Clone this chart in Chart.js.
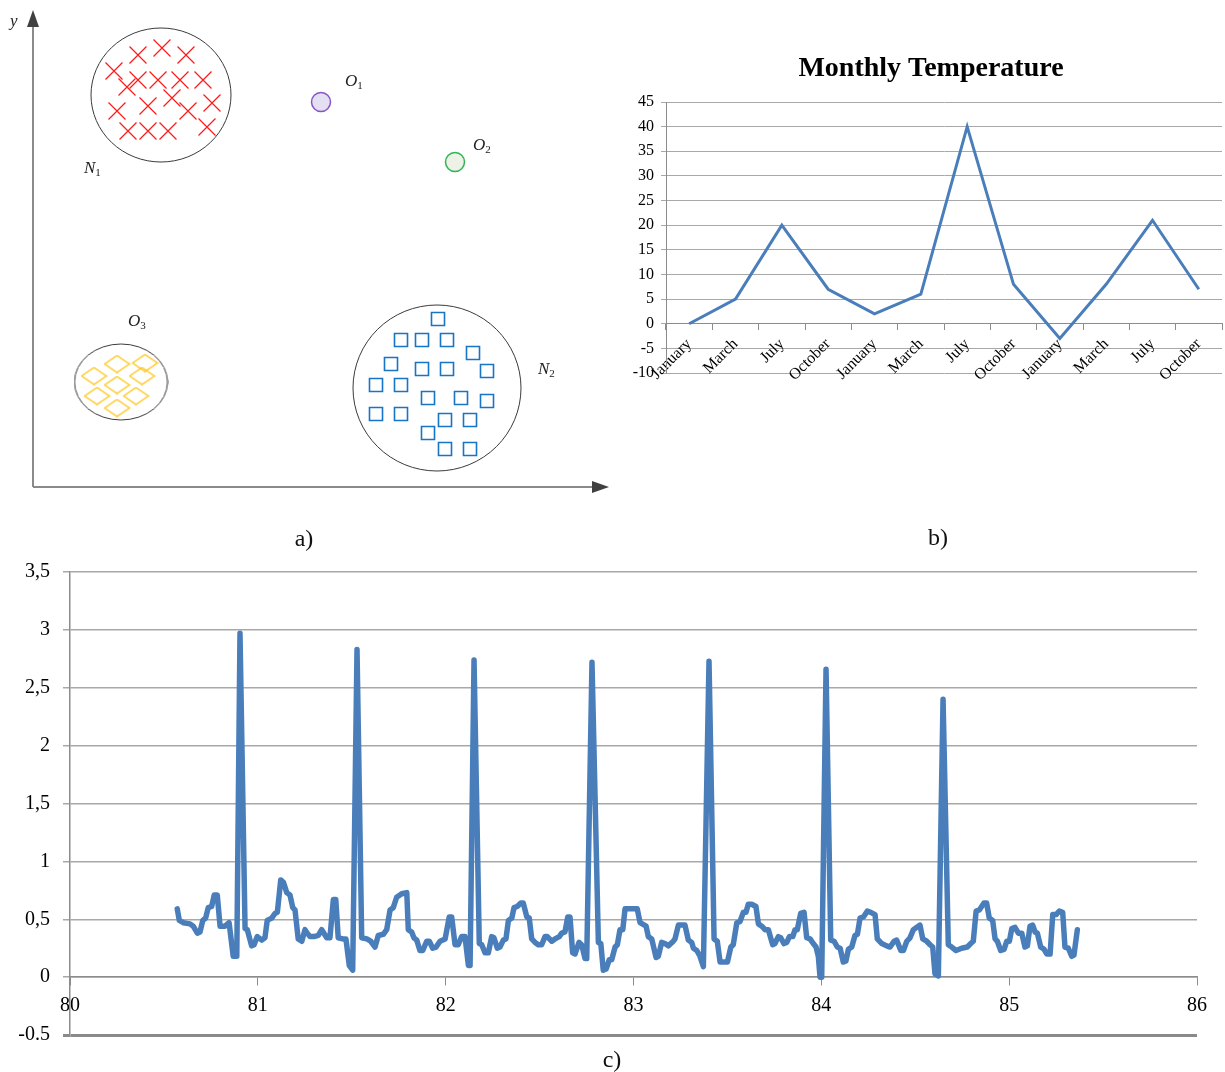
<!DOCTYPE html>
<html lang="en">
  <head>
    <meta charset="UTF-8" />
    <title>Clusters, temperature and signal</title>
    <style>
      body { margin: 0; background: #fff; }
      #page { position: relative; width: 1225px; height: 1072px; overflow: hidden; }
      canvas { position: absolute; }
      .cap { position: absolute; font: 24px "Liberation Serif", serif; color: #111; transform: translate(-50%, -50%); }
    </style>
  </head>
  <body>
    <div id="page">
      <canvas id="clusters" width="620" height="500" style="left:0;top:0"></canvas> <!--PANEL A-->
      <canvas id="temperature" width="605" height="360" style="left:620px;top:40px"></canvas> <!--PANEL B-->
      <canvas id="signal" width="1225" height="523" style="left:0;top:542px"></canvas> <!--PANEL C-->
      <div class="cap" style="left:304px;top:538px">a)</div>
      <div class="cap" style="left:938px;top:537px">b)</div>
      <div class="cap" style="left:612px;top:1059px">c)</div>
    </div>

    <script src="https://cdn.jsdelivr.net/npm/chart.js@4.4.1/dist/chart.umd.min.js"></script>

    <script>
      // ---- panel a : points in feature space (x, y) ----
      var crossX = [105, 129, 153, 81, 105, 125, 147, 170, 94, 139, 84, 115, 155, 179, 95, 115, 135, 174];
      var crossY = [432, 439, 432, 416, 407, 407, 407, 407, 400, 389, 376, 381, 376, 384, 356, 356, 356, 360];
      var squareX = [405, 368, 389, 414, 440, 358, 389, 414, 454, 343, 368, 395, 428, 454, 343, 368, 412, 437, 395, 412, 437];
      var squareY = [168, 147, 147, 147, 134, 123, 118, 118, 116, 102, 102, 89, 89, 86, 73, 73, 67, 67, 54, 38, 38];
      var diamondX = [61, 84, 112, 109, 84, 64, 103, 84];
      var diamondY = [111, 123, 124, 111, 102, 91, 91, 79];
      var clusterNames = ['N1', 'O3', 'N2'];
      var clusterX = [128, 88, 404];
      var clusterY = [392, 105, 99];
      var outlierNames = ['O1', 'O2'];
      var outlierX = [288, 422];
      var outlierY = [385, 325];

      // ---- panel b : monthly temperature ----
      var months = ['January', 'March', 'July', 'October', 'January', 'March', 'July', 'October', 'January', 'March', 'July', 'October'];
      var temperatures = [0, 5, 20, 7, 2, 6, 40, 8, -3, 8, 21, 7];

      // ---- panel c : signal ----
      var signalTime = [
        80.571, 80.582, 80.603, 80.639, 80.656, 80.678, 80.692, 80.707, 80.722, 80.736, 80.754, 80.768, 80.784, 80.799, 80.825, 80.847, 80.869, 80.888, 80.905, 80.932,
        80.944, 80.967, 80.980, 80.997, 81.021, 81.038, 81.050, 81.074, 81.091, 81.104, 81.122, 81.136, 81.154, 81.171, 81.186, 81.198, 81.215, 81.234, 81.251, 81.263,
        81.278, 81.299, 81.322, 81.340, 81.367, 81.384, 81.402, 81.415, 81.428, 81.452, 81.469, 81.487, 81.505, 81.528, 81.553, 81.580, 81.601, 81.624, 81.641, 81.668,
        81.686, 81.704, 81.721, 81.739, 81.766, 81.793, 81.801, 81.819, 81.831, 81.846, 81.863, 81.878, 81.899, 81.913, 81.931, 81.949, 81.970, 81.997, 82.019, 82.032,
        82.050, 82.067, 82.085, 82.103, 82.121, 82.130, 82.151, 82.179, 82.192, 82.210, 82.227, 82.245, 82.257, 82.275, 82.289, 82.307, 82.321, 82.334, 82.352, 82.364,
        82.381, 82.400, 82.413, 82.432, 82.445, 82.458, 82.476, 82.493, 82.511, 82.529, 82.541, 82.565, 82.582, 82.605, 82.618, 82.635, 82.650, 82.662, 82.676, 82.689,
        82.710, 82.724, 82.742, 82.751, 82.779, 82.813, 82.826, 82.839, 82.854, 82.871, 82.884, 82.902, 82.914, 82.928, 82.943, 82.955, 83.020, 83.035, 83.067, 83.079,
        83.097, 83.120, 83.132, 83.150, 83.168, 83.185, 83.212, 83.221, 83.239, 83.274, 83.292, 83.310, 83.319, 83.337, 83.354, 83.372, 83.402, 83.429, 83.446, 83.461,
        83.500, 83.518, 83.531, 83.550, 83.567, 83.585, 83.599, 83.611, 83.629, 83.652, 83.665, 83.683, 83.700, 83.718, 83.741, 83.753, 83.771, 83.784, 83.801, 83.816,
        83.830, 83.848, 83.860, 83.872, 83.890, 83.908, 83.922, 83.940, 83.957, 83.972, 83.984, 83.993, 84.002, 84.025, 84.050, 84.068, 84.085, 84.100, 84.117, 84.131,
        84.144, 84.162, 84.179, 84.192, 84.206, 84.224, 84.245, 84.263, 84.286, 84.298, 84.322, 84.348, 84.366, 84.387, 84.401, 84.423, 84.437, 84.455, 84.472, 84.490,
        84.508, 84.525, 84.540, 84.561, 84.579, 84.593, 84.605, 84.623, 84.648, 84.676, 84.694, 84.717, 84.747, 84.777, 84.795, 84.809, 84.824, 84.841, 84.866, 84.880,
        84.894, 84.912, 84.925, 84.937, 84.955, 84.973, 84.987, 85.001, 85.014, 85.031, 85.049, 85.067, 85.084, 85.097, 85.111, 85.125, 85.138, 85.150, 85.168, 85.186,
        85.200, 85.218, 85.232, 85.250, 85.267, 85.285, 85.297, 85.315, 85.333, 85.345, 85.363
      ];
      var signalValue = [
        0.59, 0.49, 0.47, 0.46, 0.44, 0.38, 0.39, 0.49, 0.51, 0.60, 0.61, 0.71, 0.71, 0.44, 0.44, 0.47, 0.18, 0.18, 2.97, 0.42,
        0.41, 0.27, 0.28, 0.35, 0.32, 0.34, 0.49, 0.51, 0.55, 0.56, 0.84, 0.82, 0.73, 0.71, 0.60, 0.58, 0.33, 0.31, 0.41, 0.38,
        0.35, 0.35, 0.36, 0.41, 0.34, 0.34, 0.67, 0.67, 0.34, 0.33, 0.33, 0.10, 0.06, 2.83, 0.34, 0.33, 0.31, 0.26, 0.36, 0.37,
        0.41, 0.58, 0.60, 0.69, 0.72, 0.73, 0.41, 0.39, 0.34, 0.32, 0.23, 0.23, 0.31, 0.31, 0.25, 0.26, 0.31, 0.33, 0.52, 0.52,
        0.28, 0.28, 0.35, 0.35, 0.10, 0.10, 2.74, 0.29, 0.28, 0.21, 0.21, 0.35, 0.34, 0.25, 0.26, 0.32, 0.33, 0.49, 0.51, 0.60,
        0.61, 0.64, 0.64, 0.52, 0.51, 0.33, 0.30, 0.28, 0.28, 0.35, 0.35, 0.31, 0.33, 0.35, 0.38, 0.39, 0.52, 0.52, 0.21, 0.20,
        0.30, 0.28, 0.16, 0.16, 2.72, 0.30, 0.29, 0.06, 0.07, 0.15, 0.15, 0.26, 0.28, 0.41, 0.41, 0.59, 0.59, 0.47, 0.44, 0.35,
        0.33, 0.17, 0.18, 0.30, 0.29, 0.27, 0.31, 0.33, 0.45, 0.45, 0.32, 0.30, 0.25, 0.23, 0.18, 0.09, 2.73, 0.33, 0.31, 0.13,
        0.13, 0.26, 0.28, 0.47, 0.48, 0.56, 0.56, 0.63, 0.63, 0.61, 0.46, 0.44, 0.41, 0.41, 0.28, 0.29, 0.35, 0.34, 0.29, 0.30,
        0.35, 0.35, 0.41, 0.41, 0.55, 0.56, 0.34, 0.33, 0.29, 0.26, 0.18, 0.00, 0.00, 2.66, 0.32, 0.31, 0.26, 0.25, 0.13, 0.14,
        0.24, 0.26, 0.36, 0.37, 0.51, 0.52, 0.57, 0.56, 0.54, 0.33, 0.29, 0.27, 0.26, 0.31, 0.32, 0.23, 0.23, 0.31, 0.34, 0.41,
        0.43, 0.45, 0.33, 0.31, 0.28, 0.26, 0.03, 0.01, 2.40, 0.28, 0.26, 0.23, 0.25, 0.26, 0.29, 0.31, 0.57, 0.58, 0.64, 0.64,
        0.51, 0.49, 0.33, 0.31, 0.23, 0.24, 0.31, 0.31, 0.42, 0.43, 0.38, 0.38, 0.26, 0.27, 0.44, 0.45, 0.39, 0.38, 0.26, 0.24,
        0.20, 0.20, 0.54, 0.54, 0.57, 0.56, 0.26, 0.25, 0.18, 0.19, 0.41
      ];
      var signalXTicks = ['80', '81', '82', '83', '84', '85', '86'];
      var signalYTicks = ['-0.5', '0', '0,5', '1', '1,5', '2', '2,5', '3', '3,5'];

      var SERIF = '"Liberation Serif", "Times New Roman", serif';
      var BLUE = '#4a7ebb';

      function toPoints(xs, ys) {
        return xs.map(function (x, i) { return { x: x, y: ys[i] }; });
      }

      // little canvases used as point styles
      function ellipseImg(w, h) {
        var c = document.createElement('canvas');
        c.width = w + 2; c.height = h + 2;
        var g = c.getContext('2d');
        g.strokeStyle = '#3a3a3a';
        g.lineWidth = 1;
        g.beginPath();
        g.ellipse(c.width / 2, c.height / 2, w / 2, h / 2, 0, 0, Math.PI * 2);
        g.stroke();
        return c;
      }
      function diamondImg(w, h, color) {
        var c = document.createElement('canvas');
        c.width = w + 2; c.height = h + 2;
        var g = c.getContext('2d');
        g.strokeStyle = color;
        g.lineWidth = 1.2;
        g.beginPath();
        g.moveTo(c.width / 2, 1);
        g.lineTo(c.width - 1, c.height / 2);
        g.lineTo(c.width / 2, c.height - 1);
        g.lineTo(1, c.height / 2);
        g.closePath();
        g.stroke();
        return c;
      }

      //PANEL A
      var clusterShapes = [ellipseImg(140, 134), ellipseImg(93, 76), ellipseImg(168, 166)];

      var axisArrows = {
        id: 'axisArrows',
        afterDraw: function (chart) {
          var a = chart.chartArea, ctx = chart.ctx;
          ctx.save();
          ctx.strokeStyle = '#8a8a8a';
          ctx.lineWidth = 2;
          ctx.beginPath();
          ctx.moveTo(a.left, a.bottom);
          ctx.lineTo(a.left, a.top + 16);
          ctx.moveTo(a.left, a.bottom);
          ctx.lineTo(a.right - 16, a.bottom);
          ctx.stroke();
          ctx.fillStyle = '#404040';
          ctx.beginPath();
          ctx.moveTo(a.left, a.top);
          ctx.lineTo(a.left - 6, a.top + 17);
          ctx.lineTo(a.left + 6, a.top + 17);
          ctx.closePath();
          ctx.fill();
          ctx.beginPath();
          ctx.moveTo(a.right, a.bottom);
          ctx.lineTo(a.right - 17, a.bottom - 6);
          ctx.lineTo(a.right - 17, a.bottom + 6);
          ctx.closePath();
          ctx.fill();
          ctx.fillStyle = '#222';
          ctx.font = 'italic 17px ' + SERIF;
          ctx.textAlign = 'left';
          ctx.textBaseline = 'alphabetic';
          ctx.fillText('y', 10, 26);
          ctx.fillText('x', 601, 512);
          ctx.restore();
        }
      };

      // group names written as letter + subscript next to their mark
      var groupLabels = {
        id: 'groupLabels',
        afterDraw: function (chart) {
          var ctx = chart.ctx, xs = chart.scales.x, ys = chart.scales.y;
          var spots = [
            { name: clusterNames[0], dx: -77, dy: 78 },
            { name: clusterNames[1], dx: 7, dy: -56 },
            { name: clusterNames[2], dx: 101, dy: -14 },
            { name: outlierNames[0], dx: 24, dy: -16 },
            { name: outlierNames[1], dx: 18, dy: -12 }
          ];
          var names = clusterNames.concat(outlierNames);
          var px = clusterX.concat(outlierX), py = clusterY.concat(outlierY);
          ctx.save();
          ctx.fillStyle = '#222';
          ctx.textBaseline = 'alphabetic';
          spots.forEach(function (s) {
            var i = names.indexOf(s.name);
            var x = xs.getPixelForValue(px[i]) + s.dx;
            var y = ys.getPixelForValue(py[i]) + s.dy;
            ctx.font = 'italic 17px ' + SERIF;
            ctx.fillText(s.name.charAt(0), x, y);
            var w = ctx.measureText(s.name.charAt(0)).width;
            ctx.font = '11px ' + SERIF;
            ctx.fillText(s.name.slice(1), x + w, y + 3);
          });
          ctx.restore();
        }
      };

      new Chart(document.getElementById('clusters'), {
        type: 'scatter',
        data: {
          datasets: [
            {
              label: 'N',
              data: toPoints(crossX, crossY),
              pointStyle: 'crossRot',
              pointRadius: 12,
              borderColor: '#ff1a1a',
              borderWidth: 1.2
            },
            {
              label: 'squares',
              data: toPoints(squareX, squareY),
              pointStyle: 'rect',
              pointRadius: 9.2,
              borderColor: '#1874c4',
              backgroundColor: 'rgba(0,0,0,0)',
              borderWidth: 1.6
            },
            {
              label: 'diamonds',
              data: toPoints(diamondX, diamondY),
              pointStyle: diamondImg(25, 17, '#ffc000')
            },
            {
              label: 'O1',
              data: [{ x: outlierX[0], y: outlierY[0] }],
              pointStyle: 'circle',
              pointRadius: 9.5,
              backgroundColor: '#e5e0f1',
              borderColor: '#8a55c8',
              borderWidth: 1.5
            },
            {
              label: 'O2',
              data: [{ x: outlierX[1], y: outlierY[1] }],
              pointStyle: 'circle',
              pointRadius: 9.5,
              backgroundColor: '#edf1e6',
              borderColor: '#2fb653',
              borderWidth: 1.5
            },
            {
              label: 'clusters',
              data: toPoints(clusterX, clusterY),
              pointStyle: clusterShapes
            }
          ]
        },
        options: {
          responsive: false,
          animation: false,
          events: [],
          layout: { padding: { left: 33, top: 10, right: 11, bottom: 13 }, autoPadding: false },
          plugins: { legend: { display: false }, tooltip: { enabled: false } },
          scales: {
            x: { type: 'linear', display: false, min: 0, max: 576 },
            y: { type: 'linear', display: false, min: 0, max: 477 }
          }
        },
        plugins: [axisArrows, groupLabels]
      });

      //PANEL B
      var titleB = {
        id: 'titleB',
        afterDraw: function (chart) {
          var ctx = chart.ctx;
          ctx.save();
          ctx.fillStyle = '#000';
          ctx.font = 'bold 28px ' + SERIF;
          ctx.textAlign = 'center';
          ctx.textBaseline = 'middle';
          ctx.fillText('Monthly Temperature', 311, 29);
          ctx.restore();
        }
      };

      new Chart(document.getElementById('temperature'), {
        type: 'line',
        data: {
          labels: months,
          datasets: [{
            label: 'Temperature',
            data: temperatures,
            borderColor: BLUE,
            borderWidth: 3,
            pointRadius: 0,
            tension: 0,
            fill: false
          }]
        },
        options: {
          responsive: false,
          animation: false,
          events: [],
          layout: { padding: { left: 0, top: 62, right: 3, bottom: 27 }, autoPadding: false },
          plugins: { legend: { display: false }, tooltip: { enabled: false } },
          scales: {
            x: {
              type: 'category',
              axis: 'x',
              position: { y: 0 },
              offset: true,
              grid: { drawOnChartArea: false, offset: true, tickLength: 6, color: '#8c8c8c' },
              border: { color: '#8c8c8c' },
              ticks: { autoSkip: false, minRotation: 45, maxRotation: 45, padding: 5, color: '#000', font: { family: SERIF, size: 16 } }
            },
            y: {
              min: -10,
              max: 45,
              afterFit: function (scale) { scale.width = 46; },
              grid: { color: '#a8a8a8', tickLength: 5 },
              border: { color: '#8c8c8c' },
              ticks: { stepSize: 5, padding: 7, color: '#000', font: { family: SERIF, size: 16 } }
            }
          }
        },
        plugins: [titleB]
      });

      //PANEL C
      new Chart(document.getElementById('signal'), {
        type: 'line',
        data: {
          datasets: [{
            label: 'signal',
            data: toPoints(signalTime, signalValue),
            borderColor: BLUE,
            borderWidth: 5.5,
            borderJoinStyle: 'round',
            borderCapStyle: 'round',
            pointRadius: 0,
            tension: 0,
            fill: false
          }]
        },
        options: {
          responsive: false,
          animation: false,
          events: [],
          layout: { padding: { left: 0, top: 30, right: 28, bottom: 30 }, autoPadding: false },
          plugins: { legend: { display: false }, tooltip: { enabled: false } },
          scales: {
            x: {
              type: 'linear',
              axis: 'x',
              position: { y: 0 },
              min: 80,
              max: 86,
              grid: { drawOnChartArea: false, tickLength: 8, color: '#8c8c8c' },
              border: { color: '#8c8c8c', width: 1.5 },
              ticks: {
                stepSize: 1,
                padding: 9,
                color: '#000',
                font: { family: SERIF, size: 20 },
                callback: function (v, i) { return signalXTicks[i]; }
              }
            },
            y: {
              type: 'linear',
              min: -0.5,
              max: 3.5,
              afterFit: function (scale) { scale.width = 70; },
              grid: {
                color: function (c) { return c.tick && c.tick.value === -0.5 ? '#8a8a8a' : '#a8a8a8'; },
                lineWidth: function (c) { return c.tick && c.tick.value === -0.5 ? 3 : 1.5; },
                tickLength: 7
              },
              border: { color: '#8c8c8c', width: 1.5 },
              ticks: {
                stepSize: 0.5,
                padding: 13,
                color: '#000',
                font: { family: SERIF, size: 20 },
                callback: function (v, i) { return signalYTicks[i]; }
              }
            }
          }
        }
      });
    </script>
  </body>
</html>
